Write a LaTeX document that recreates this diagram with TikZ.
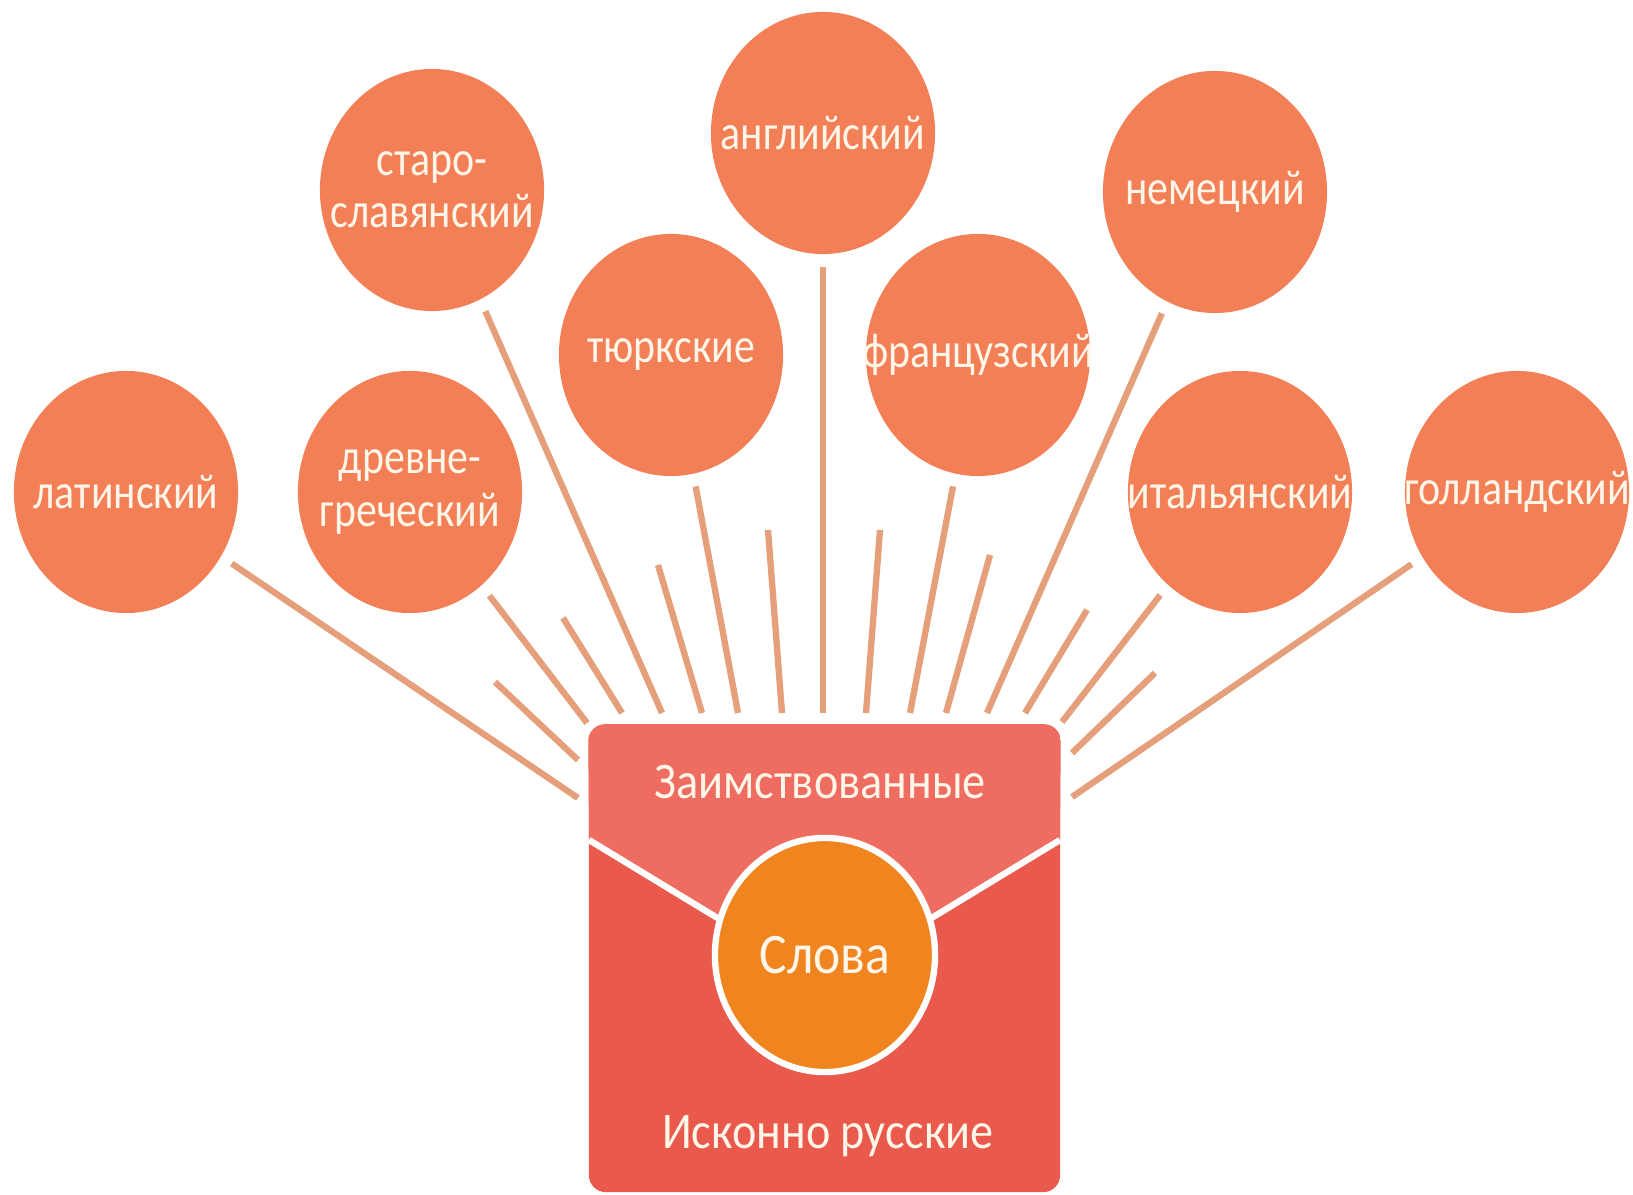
\documentclass[tikz,border=0pt]{standalone}
\usepackage{fontspec}
\setmainfont{Carlito}
\newfontfamily\langfont[FakeStretch=0.85]{Carlito}
\newfontfamily\boxfont[FakeStretch=0.9]{Carlito}
\usepackage{tikz}
\usetikzlibrary{shapes.geometric}
\definecolor{langfill}{HTML}{F27F56}
\definecolor{rayline}{HTML}{E59F7B}
\definecolor{boxtop}{HTML}{EF6C60}
\definecolor{boxbot}{HTML}{EA5A4C}
\definecolor{slovafill}{HTML}{F08520}
\definecolor{txt}{HTML}{FFF6EA}

\begin{document}
\begin{tikzpicture}[
        x=0.01cm, y=-0.01cm,
        lang/.style={ellipse, fill=langfill, minimum width=2.24cm,
            minimum height=2.42cm, inner sep=0pt, outer sep=0pt},
        langtext/.style={text=txt, align=center, inner sep=0pt,
            font=\langfont\fontsize{14pt}{14.8pt}\selectfont},
        ray/.style={rayline, line width=1.8pt},
        lray/.style={ray, shorten <=0.13cm},
        vline/.style={white, line width=1.8pt},
        boxtext/.style={text=txt, inner sep=0pt,
            font=\boxfont\fontsize{14.6pt}{16pt}\selectfont},
    ]
    \useasboundingbox (0,0) rectangle (1633,1195);

    % languages
    \node[lang, label={[langtext]center:латинский}] (lat) at (126,492) {};
    \node[lang, label={[langtext]center:древне-\\греческий}] (gre) at (410,492) {};
    \node[lang, label={[langtext]center:старо-\\славянский}] (sta) at (432,190) {};
    \node[lang, label={[langtext]center:тюркские}] (tur) at (671,355) {};
    \node[lang, label={[langtext]center:английский}] (eng) at (823,133) {};
    \node[lang, label={[langtext]center:французский}] (fre) at (978,355) {};
    \node[lang, label={[langtext]center:немецкий}] (ger) at (1215,192) {};
    \node[lang, label={[langtext]center:итальянский}] (ita) at (1240,492) {};
    \node[lang, label={[langtext]center:голландский}] (dut) at (1517,492) {};

    % rays
    \coordinate (lat_e) at (578,798);
    \coordinate (gre_e) at (587,723);
    \coordinate (sta_e) at (662,713);
    \coordinate (tur_e) at (738,713);
    \coordinate (eng_e) at (823,713);
    \coordinate (fre_e) at (910,713);
    \coordinate (ger_e) at (987,713);
    \coordinate (ita_e) at (1062,722);
    \coordinate (dut_e) at (1072,797);
    \draw[lray] (lat) -- (lat_e);
    \draw[lray] (gre) -- (gre_e);
    \draw[lray] (sta) -- (sta_e);
    \draw[lray] (tur) -- (tur_e);
    \draw[lray] (eng) -- (eng_e);
    \draw[lray] (fre) -- (fre_e);
    \draw[lray] (ger) -- (ger_e);
    \draw[lray] (ita) -- (ita_e);
    \draw[lray] (dut) -- (dut_e);
    \draw[ray] (495,682) -- (578,760);
    \draw[ray] (563,618) -- (622,713);
    \draw[ray] (658,565) -- (702,713);
    \draw[ray] (768,530) -- (782,713);
    \draw[ray] (880,530) -- (866,713);
    \draw[ray] (990,555) -- (946,713);
    \draw[ray] (1087,610) -- (1025,713);
    \draw[ray] (1155,673) -- (1072,753);

    % words box
    \node[fill=boxbot, rounded corners=0.17cm, minimum width=4.71cm,
        minimum height=4.67cm, inner sep=0pt] (box) at (824.5,958.5) {};
    \coordinate (v_l) at (589,840);
    \coordinate (v_m) at (824.5,983);
    \coordinate (v_r) at (1060,840);
    \begin{scope}
        \clip[rounded corners=0.17cm] (box.north west) rectangle (box.south east);
        \fill[boxtop] (box.north west) -- (box.north east) -- (v_r) -- (v_m)
            -- (v_l) -- cycle;
    \end{scope}
    \draw[vline] (v_l) -- (v_m) -- (v_r);
    \node[boxtext] (zaim) at (820,782) {Заимствованные};
    \node[boxtext] (iskon) at (828,1136) {Исконно русские};
    \node[ellipse, fill=slovafill, draw=white, line width=1.8pt,
        minimum width=2.2cm, minimum height=2.34cm, inner sep=0pt, text=txt,
        font=\boxfont\fontsize{16.3pt}{18pt}\selectfont] (slova) at (825,955) {Слова};
\end{tikzpicture}
\end{document}
